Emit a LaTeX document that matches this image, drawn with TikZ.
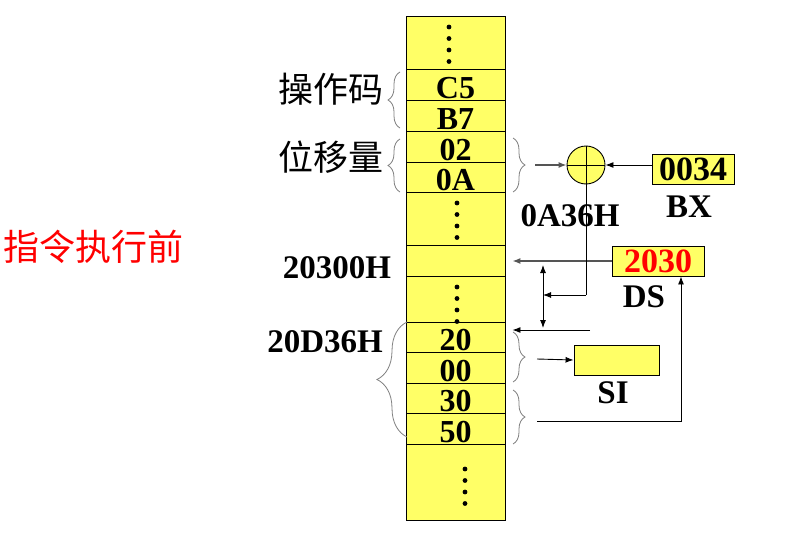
\documentclass[tikz,border=0pt]{standalone}
\usepackage{fontspec}
\setmainfont{Liberation Serif}
\newfontfamily\cjk{Noto Sans CJK SC}
\usetikzlibrary{positioning,calc,arrows.meta,decorations.pathreplacing}
\definecolor{paper}{RGB}{255,255,255}
\definecolor{ink}{RGB}{0,0,0}
\definecolor{muted}{RGB}{85,85,85}
\definecolor{bracegray}{RGB}{128,128,128}
\definecolor{cellfill}{RGB}{255,255,102}
\definecolor{alert}{RGB}{255,0,0}
\tikzset{
  cell/.style={draw=ink, line width=0.9pt, fill=cellfill, minimum width=99pt, inner sep=0pt, text height=27pt, text depth=0pt, font=\bfseries\fontsize{32}{32}\selectfont},
  reg/.style={draw=ink, line width=0.9pt, fill=cellfill, minimum height=30pt, inner sep=0pt, font=\bfseries\fontsize{34}{34}\selectfont},
  title/.style={font=\bfseries\fontsize{33}{33}\selectfont, text=ink, inner sep=0pt},
  hanzi/.style={font=\cjk\fontsize{35}{35}\selectfont, text=ink, inner sep=0pt},
  arrow/.style={-{Latex[length=8pt,width=6pt]}, line width=0.9pt, draw=ink},
  grayarrow/.style={-{Latex[length=8pt,width=6pt]}, line width=1.2pt, draw=muted},
  twoway/.style={{Latex[length=8pt,width=6pt]}-{Latex[length=8pt,width=6pt]}, line width=0.9pt, draw=ink},
  wire/.style={line width=0.9pt, draw=ink},
  curly/.style={decorate, decoration={brace, amplitude=#1}, line width=0.8pt, draw=bracegray},
  curly/.default=12pt,
}
\newcommand{\CellDots}[2]{%
  \foreach \k in {0,1,2,3} \fill[ink] (#1,#2+11.5*\k) circle (2.4pt);
}

\begin{document}
\begin{tikzpicture}[x=1pt,y=-1pt]
  \useasboundingbox[fill=paper] (0,0) rectangle (802,535);

  % Memory column
  \node[cell, minimum height=53pt] (top) at (455.5,42.5) {};
  \node[cell, minimum height=31pt] (c5) at (455.5,84.5) {C5};
  \node[cell, minimum height=31pt] (b7) at (455.5,115.5) {B7};
  \node[cell, minimum height=31pt] (d02) at (455.5,146.5) {02};
  \node[cell, minimum height=30pt] (d0a) at (455.5,177) {0A};
  \node[cell, minimum height=53pt] (mid) at (455.5,218.5) {};
  \node[cell, minimum height=31pt] (addr) at (455.5,260.5) {};
  \node[cell, minimum height=46pt] (low) at (455.5,299) {};
  \node[cell, minimum height=30pt] (d20) at (455.5,337) {20};
  \node[cell, minimum height=31pt] (d00) at (455.5,367.5) {00};
  \node[cell, minimum height=30pt] (d30) at (455.5,398) {30};
  \node[cell, minimum height=31pt] (d50) at (455.5,428.5) {50};
  \node[cell, minimum height=76pt] (bot) at (455.5,482) {};
  \CellDots{449}{27}
  \CellDots{457}{203}
  \CellDots{457}{287}
  \CellDots{465}{469}

  % Left labels
  \node[hanzi, font=\cjk\fontsize{36}{36}\selectfont, text=alert] (state) at (93,247) {指令执行前};
  \node[hanzi] (opname) at (331,89) {操作码};
  \node[hanzi] (dispname) at (331,157) {位移量};
  \draw[curly] (400,128) -- (400,72);
  \draw[curly] (400,192) -- (400,139);
  \node[title] (eaname) at (337,268) {20300H};
  \node[title] (paname) at (325,342) {20D36H};
  \draw[curly=30pt] (407,437) -- (407,322);

  % Offset + BX
  \draw[curly] (513,138) -- (513,192);
  \coordinate (dtip) at (535,165);
  \node[circle, draw=ink, line width=0.9pt, fill=cellfill, minimum size=38pt, inner sep=0pt] (add) at (586,165) {};
  \draw[wire] (add.north) -- (add.south) (add.west) -- (add.east);
  \node[reg, minimum width=82pt] (bx) at (693,169) {0034};
  \node[title] (bxname) at (689,207) {BX};
  \draw[grayarrow] (dtip) -- (add.west);
  \draw[arrow] (bx.west |- add) -- (add.east);
  \node[title] (offname) at (570,216) {0A36H};

  % DS
  \node[reg, minimum width=92pt, text=alert] (ds) at (658,261) {2030};
  \node[title] (dsname) at (644,297) {DS};
  \draw[grayarrow, shorten >=7pt] (ds.west) -- (ds.west -| addr.east);

  % Address sum
  \coordinate (bend) at (586,295);
  \coordinate (vtop) at (543,265);
  \coordinate (vbot) at (543,328);
  \coordinate (sumend) at (590,330);
  \draw[wire] (add.south) -- (bend);
  \draw[arrow] (bend) -- (bend -| vtop);
  \draw[twoway] (vtop) -- (vbot);
  \draw[arrow, shorten >=7pt] (sumend) -- (sumend -| d20.east);

  % Loaded operands
  \node[reg, minimum width=85pt] (si) at (616.5,360) {};
  \node[title] (siname) at (613,393) {SI};
  \draw[curly] (513,332) -- (513,382);
  \draw[curly] (513,390) -- (513,444);
  \coordinate (lotip) at (537,359);
  \coordinate (hitip) at (537,421);
  \draw[arrow] (lotip) -- (si.west);
  \draw[arrow] (hitip) -| ($(ds.south)+(23,0)$);
\end{tikzpicture}
\end{document}
